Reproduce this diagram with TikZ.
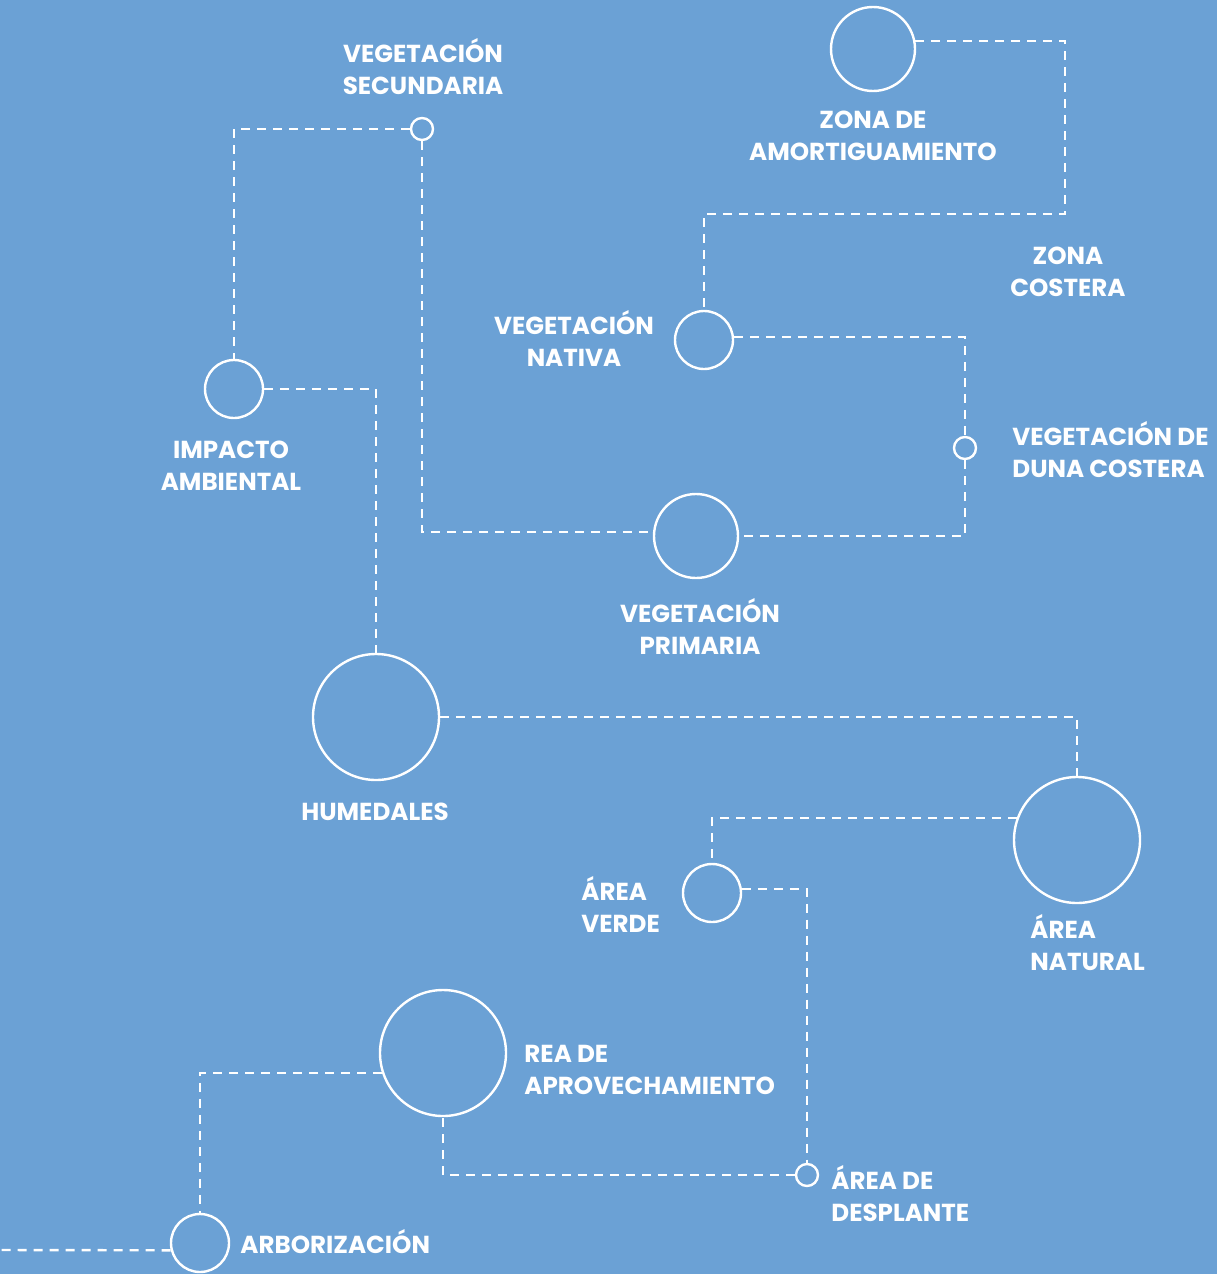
\documentclass[tikz,border=0pt]{standalone}
\usepackage{fontspec}
\setmainfont{Poppins}
\definecolor{fondo}{HTML}{6BA1D5}

\tikzset{
  hub/.style={circle, draw=white, line width=1.2pt, inner sep=0pt},
  tiny/.style={hub, minimum size=11pt},
  small/.style={hub, minimum size=29pt},
  medium/.style={hub, minimum size=42pt},
  big/.style={hub, minimum size=63pt},
  enlace/.style={draw=white, line width=1.2pt, dash pattern=on 4.5pt off 3.5pt},
  etiqueta/.style={text=white, font=\fontsize{12.3}{16}\selectfont\bfseries, inner sep=0pt}
}

\begin{document}
\begin{tikzpicture}[x=0.5pt, y=-0.5pt]
  \fill[fondo] (0,0) rectangle (1217,1274);
  \useasboundingbox (0,0) rectangle (1217,1274);

  % circles
  \node[medium] (amort) at (873,49) {};
  \node[tiny] (secund) at (422,129) {};
  \node[small] (impacto) at (234,389) {};
  \node[small] (nativa) at (704,340) {};
  \node[tiny] (duna) at (965,448) {};
  \node[medium] (primaria) at (696,536) {};
  \node[big] (humed) at (376,717) {};
  \node[big] (natural) at (1077,840) {};
  \node[small] (verde) at (712,893) {};
  \node[big] (rea) at (443,1053) {};
  \node[tiny] (desplante) at (807,1175) {};
  \node[small] (arbor) at (200,1243) {};

  % labels
  \node[etiqueta, align=center] (lsecund) at (423,67) {VEGETACIÓN\\SECUNDARIA};
  \node[etiqueta, align=center] (lamort) at (873,136) {ZONA DE\\AMORTIGUAMIENTO};
  \node[etiqueta, align=center] (lcostera) at (1068,272) {ZONA\\COSTERA};
  \node[etiqueta, align=center] (lnativa) at (574,338) {VEGETACIÓN\\NATIVA};
  \node[etiqueta, align=center] (limpacto) at (231,466) {IMPACTO\\AMBIENTAL};
  \node[etiqueta, align=left, anchor=west] (lduna) at (1012,450) {VEGETACIÓN DE\\DUNA COSTERA};
  \node[etiqueta, align=center] (lprimaria) at (700,626) {VEGETACIÓN\\PRIMARIA};
  \node[etiqueta] (lhumed) at (375,812) {HUMEDALES};
  \node[etiqueta, align=left, anchor=west] (lverde) at (581,904) {ÁREA\\VERDE};
  \node[etiqueta, align=left, anchor=west] (lnatural) at (1030,943) {ÁREA\\NATURAL};
  \node[etiqueta, align=left, anchor=west] (lrea) at (524,1070) {REA DE\\APROVECHAMIENTO};
  \node[etiqueta, align=left, anchor=west] (ldesplante) at (831,1194) {ÁREA DE\\DESPLANTE};
  \node[etiqueta, anchor=west] (larbor) at (240,1242) {ARBORIZACIÓN};

  % dashed connectors
  \coordinate (c1) at (1065,214);
  \coordinate (borde) at (0,1250);
  \draw[enlace] (amort.11) -| (c1) -| (nativa.north);
  \draw[enlace] (secund.west) -| (impacto.north);
  \draw[enlace] (secund.south) |- (primaria.175);
  \draw[enlace] (impacto.east) -| (humed.north);
  \draw[enlace] (nativa.6) -| (duna.north);
  \draw[enlace] (duna.south) |- (primaria.east);
  \draw[enlace] (humed.east) -| (natural.north);
  \draw[enlace] (natural.160) -| (verde.north);
  \draw[enlace] (verde.8) -| (desplante.north);
  \draw[enlace] (desplante.west) -| (rea.south);
  \draw[enlace] (rea.198) -| (arbor.north);
  \draw[enlace] (arbor.194) -- (borde);
\end{tikzpicture}
\end{document}
